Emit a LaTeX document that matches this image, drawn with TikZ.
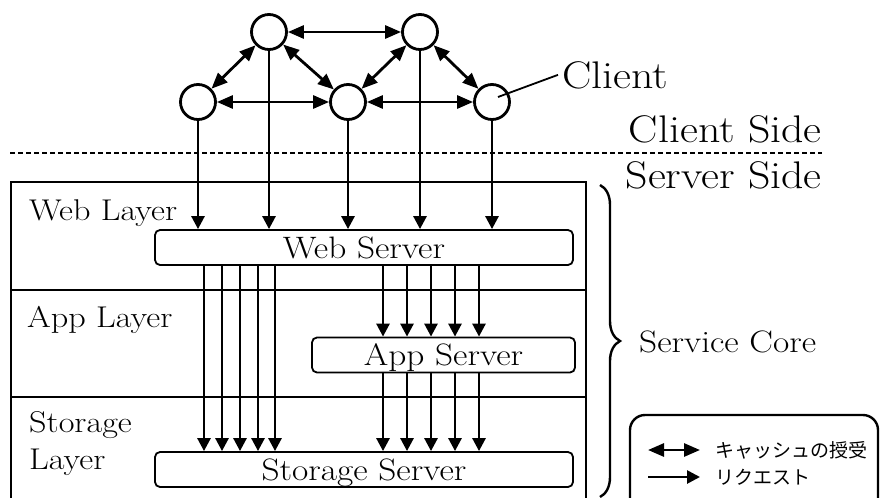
\documentclass[tikz,border=0pt]{standalone}
\usepackage{fontspec}
\setmainfont{Latin Modern Roman}[FakeStretch=1.14]
\newfontfamily\jpfont{Noto Sans CJK JP}
\usetikzlibrary{arrows.meta,decorations.pathreplacing}

\begin{document}
\begin{tikzpicture}[x=1pt,y=-1pt,
  client/.style={circle,draw,line width=2.8pt,minimum size=35pt,inner sep=0pt,fill=white},
  server/.style={draw,rounded corners=5pt,line width=1.8pt,inner sep=0pt,
    minimum height=35pt,text height=21pt,text depth=0pt,font=\fontsize{31}{33}\selectfont},
  layertext/.style={inner sep=0pt,anchor=base west,font=\fontsize{30}{37}\selectfont},
  sidetext/.style={inner sep=0pt,font=\fontsize{38.5}{40}\selectfont},
  layerline/.style={line width=1.8pt},
  req/.style={line width=2.7pt,-{Triangle[length=13pt,width=13pt]}},
  cache/.style={line width=2.8pt,{Triangle[length=16pt,width=13pt]}-{Triangle[length=16pt,width=13pt]}},
  legtext/.style={inner sep=0pt,anchor=west,font=\jpfont\fontsize{19}{21}\selectfont}]
\useasboundingbox (0,0) rectangle (881,498);
\clip (0,0) rectangle (881,498);

% layer frame
\draw[layerline] (11,182) rectangle (586,530);
\draw[layerline] (11,290) -- (586,290);
\draw[layerline] (11,397) -- (586,397);

% clients
\node[client] (t1) at (269,32) {};
\node[client] (t2) at (420,32) {};
\node[client] (b1) at (198,102) {};
\node[client] (b2) at (348,102) {};
\node[client] (b3) at (492,102) {};

% cache exchange between clients
\draw[cache] (t1) -- (t2);
\draw[cache] (t1) -- (b1);
\draw[cache] (t1) -- (b2);
\draw[cache] (t2) -- (b2);
\draw[cache] (t2) -- (b3);
\draw[cache] (b1) -- (b2);
\draw[cache] (b2) -- (b3);

% servers
\node[server,minimum width=418pt] (ws) at (364,247.5) {Web Server};
\node[server,minimum width=263pt] (as) at (443.5,355) {App Server};
\node[server,minimum width=418pt] (ss) at (364,469.5) {Storage Server};

% requests from clients
\foreach \c in {t1,t2,b1,b2,b3}
  \draw[req] (\c) -- (\c |- ws.north);

% requests from the web server
\foreach \i/\x in {1/-160,2/-142,3/-124,4/-106,5/-89}
  \coordinate (w\i) at ([xshift=\x pt]ws.south);
\foreach \i/\x in {1/19,2/43,3/67,4/91,5/115}
  \coordinate (a\i) at ([xshift=\x pt]ws.south);
\foreach \i in {1,...,5}{
  \draw[req] (w\i) -- (w\i |- ss.north);
  \draw[req] (a\i) -- (a\i |- as.north);
  \draw[req] (a\i |- as.south) -- (a\i |- ss.north);
}

% layer names
\node[layertext] (wl) at (29,220) {Web Layer};
\node[layertext] (al) at (27,327) {App Layer};
\node[inner sep=0pt,anchor=north west,align=left,font=\fontsize{30}{37}\selectfont] (sl) at (29,411) {Storage\\Layer};

% client / server boundary
\coordinate (d1) at (10,153);
\coordinate (d2) at (822,153);
\draw[line width=2.8pt,dash pattern=on 5pt off 3pt] (d1) -- (d2);
\node[sidetext,anchor=base east] (cs) at (822,142) {Client Side};
\node[sidetext,anchor=base east] (sv) at (822,188) {Server Side};

% client label
\node[sidetext,anchor=base west,inner xsep=4pt] (cl) at (558,88) {Client};
\coordinate (cp) at ([shift={(6pt,5pt)}]b3.center);
\draw[line width=1.8pt] (cp) -- (cl.west);

% service core brace
\coordinate (br1) at (600,185);
\coordinate (br2) at (600,497);
\draw[line width=2.4pt,decorate,decoration={brace,amplitude=20pt}] (br1) -- (br2);
\node[inner sep=0pt,anchor=base west,font=\fontsize{31}{34}\selectfont] (sc) at (639,352) {Service Core};

% legend
\draw[line width=2.4pt,rounded corners=15pt] (630,415) rectangle (878,530);
\coordinate (l1a) at (648,450);
\coordinate (l1b) at (700,450);
\coordinate (l2a) at (648,477);
\coordinate (l2b) at (700,477);
\draw[cache] (l1a) -- (l1b);
\draw[req] (l2a) -- (l2b);
\node[legtext] (lt1) at (715,450) {キャッシュの授受};
\node[legtext] (lt2) at (715,477) {リクエスト};
\end{tikzpicture}
\end{document}
